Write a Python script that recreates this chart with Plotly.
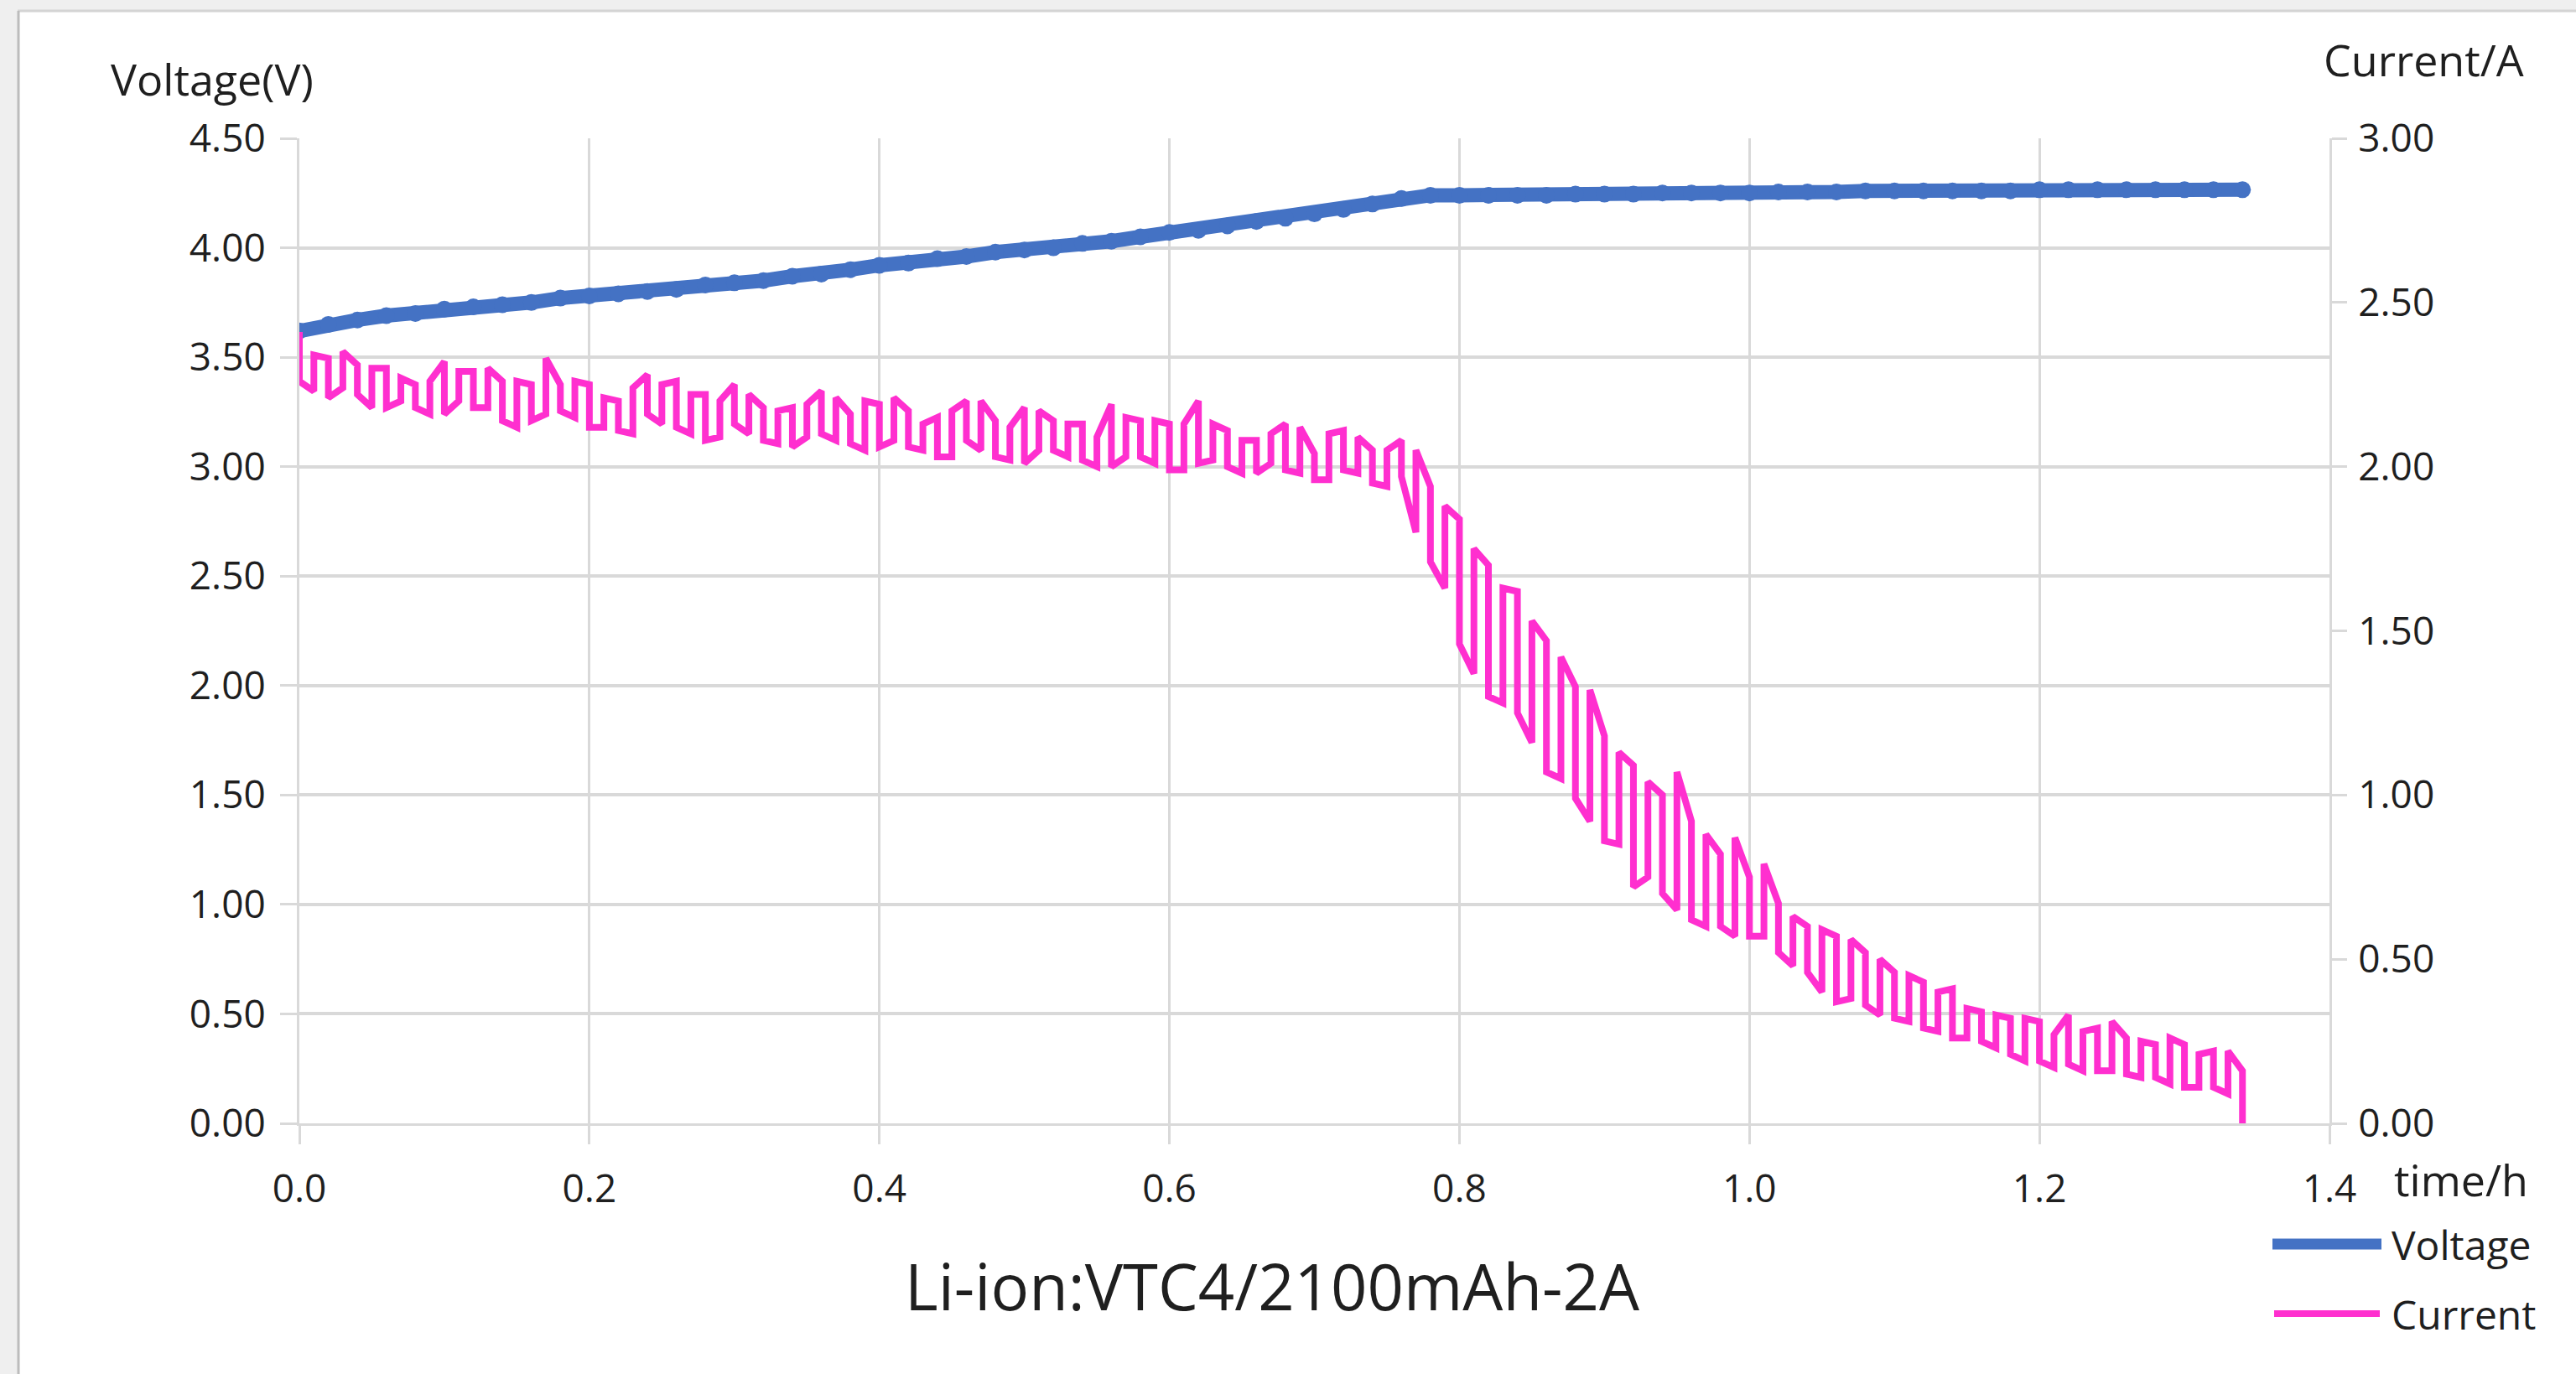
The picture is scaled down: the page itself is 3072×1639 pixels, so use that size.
import plotly.graph_objects as go

# ---------------- data ----------------
cur_t = [0.00, 0.01, 0.02, 0.03, 0.04, 0.05, 0.06, 0.07, 0.08, 0.09,
         0.10, 0.11, 0.12, 0.13, 0.14, 0.15, 0.16, 0.17, 0.18, 0.19,
         0.20, 0.21, 0.22, 0.23, 0.24, 0.25, 0.26, 0.27, 0.28, 0.29,
         0.30, 0.31, 0.32, 0.33, 0.34, 0.35, 0.36, 0.37, 0.38, 0.39,
         0.40, 0.41, 0.42, 0.43, 0.44, 0.45, 0.46, 0.47, 0.48, 0.49,
         0.50, 0.51, 0.52, 0.53, 0.54, 0.55, 0.56, 0.57, 0.58, 0.59,
         0.60, 0.61, 0.62, 0.63, 0.64, 0.65, 0.66, 0.67, 0.68, 0.69,
         0.70, 0.71, 0.72, 0.73, 0.74, 0.75, 0.76, 0.77, 0.78, 0.79,
         0.80, 0.81, 0.82, 0.83, 0.84, 0.85, 0.86, 0.87, 0.88, 0.89,
         0.90, 0.91, 0.92, 0.93, 0.94, 0.95, 0.96, 0.97, 0.98, 0.99,
         1.00, 1.01, 1.02, 1.03, 1.04, 1.05, 1.06, 1.07, 1.08, 1.09,
         1.10, 1.11, 1.12, 1.13, 1.14, 1.15, 1.16, 1.17, 1.18, 1.19,
         1.20, 1.21, 1.22, 1.23, 1.24, 1.25, 1.26, 1.27, 1.28, 1.29,
         1.30, 1.31, 1.32, 1.33, 1.34]

cur_hi = [2.41, 2.34, 2.33, 2.35, 2.31, 2.30, 2.30, 2.27, 2.25, 2.26,
          2.32, 2.29, 2.29, 2.30, 2.26, 2.26, 2.25, 2.33, 2.25, 2.26,
          2.25, 2.21, 2.20, 2.24, 2.28, 2.25, 2.26, 2.22, 2.22, 2.20,
          2.25, 2.22, 2.18, 2.17, 2.18, 2.19, 2.23, 2.21, 2.16, 2.20,
          2.19, 2.21, 2.17, 2.13, 2.15, 2.17, 2.20, 2.20, 2.14, 2.12,
          2.18, 2.17, 2.14, 2.13, 2.13, 2.09, 2.19, 2.15, 2.14, 2.14,
          2.13, 2.13, 2.20, 2.13, 2.11, 2.08, 2.08, 2.10, 2.13, 2.12,
          2.04, 2.10, 2.11, 2.09, 2.05, 2.05, 2.08, 2.05, 1.94, 1.88,
          1.84, 1.75, 1.70, 1.63, 1.62, 1.53, 1.47, 1.42, 1.33, 1.32,
          1.18, 1.13, 1.09, 1.04, 1.00, 1.07, 0.92, 0.88, 0.82, 0.87,
          0.75, 0.79, 0.67, 0.63, 0.60, 0.59, 0.57, 0.56, 0.52, 0.50,
          0.46, 0.45, 0.43, 0.40, 0.41, 0.35, 0.34, 0.33, 0.32, 0.32,
          0.31, 0.27, 0.33, 0.28, 0.29, 0.31, 0.26, 0.25, 0.24, 0.26,
          0.24, 0.21, 0.22, 0.22, 0.16]

cur_lo = [2.26, 2.23, 2.21, 2.24, 2.22, 2.18, 2.18, 2.20, 2.18, 2.16,
          2.16, 2.20, 2.18, 2.18, 2.14, 2.12, 2.14, 2.16, 2.17, 2.15,
          2.12, 2.12, 2.11, 2.10, 2.16, 2.13, 2.12, 2.10, 2.08, 2.09,
          2.13, 2.10, 2.08, 2.07, 2.06, 2.09, 2.10, 2.08, 2.07, 2.05,
          2.06, 2.08, 2.06, 2.05, 2.03, 2.03, 2.08, 2.05, 2.03, 2.02,
          2.01, 2.05, 2.05, 2.03, 2.02, 2.00, 2.00, 2.03, 2.03, 2.01,
          1.99, 1.99, 2.01, 2.02, 2.00, 1.98, 1.98, 2.01, 1.99, 1.98,
          1.96, 1.96, 1.99, 1.98, 1.95, 1.94, 1.97, 1.80, 1.71, 1.63,
          1.46, 1.37, 1.30, 1.28, 1.25, 1.16, 1.07, 1.05, 0.99, 0.92,
          0.86, 0.85, 0.72, 0.75, 0.70, 0.65, 0.62, 0.60, 0.60, 0.57,
          0.57, 0.57, 0.52, 0.48, 0.46, 0.40, 0.37, 0.38, 0.36, 0.33,
          0.32, 0.31, 0.29, 0.28, 0.26, 0.26, 0.25, 0.23, 0.21, 0.19,
          0.19, 0.17, 0.18, 0.16, 0.16, 0.16, 0.15, 0.14, 0.14, 0.12,
          0.11, 0.11, 0.11, 0.09, 0.00]

volt_t = [0.00, 0.02, 0.04, 0.06, 0.08, 0.10, 0.12, 0.14, 0.16, 0.18,
          0.20, 0.22, 0.24, 0.26, 0.28, 0.30, 0.32, 0.34, 0.36, 0.38,
          0.40, 0.42, 0.44, 0.46, 0.48, 0.50, 0.52, 0.54, 0.56, 0.58,
          0.60, 0.62, 0.64, 0.66, 0.68, 0.70, 0.72, 0.74, 0.76, 0.78,
          0.80, 0.82, 0.84, 0.86, 0.88, 0.90, 0.92, 0.94, 0.96, 0.98,
          1.00, 1.02, 1.04, 1.06, 1.08, 1.10, 1.12, 1.14, 1.16, 1.18,
          1.20, 1.22, 1.24, 1.26, 1.28, 1.30, 1.32, 1.34]

volt_v = [3.62, 3.65, 3.67, 3.69, 3.70, 3.72, 3.73, 3.74, 3.75, 3.77,
          3.78, 3.79, 3.80, 3.81, 3.83, 3.84, 3.85, 3.87, 3.88, 3.90,
          3.92, 3.93, 3.95, 3.96, 3.98, 3.99, 4.00, 4.02, 4.03, 4.05,
          4.07, 4.08, 4.10, 4.12, 4.135, 4.155, 4.175, 4.20, 4.225, 4.24,
          4.24, 4.24, 4.24, 4.24, 4.245, 4.245, 4.245, 4.25, 4.25, 4.25,
          4.25, 4.255, 4.255, 4.255, 4.26, 4.26, 4.26, 4.26, 4.26, 4.26,
          4.265, 4.265, 4.265, 4.265, 4.265, 4.265, 4.265, 4.265]

volt_ticks = [0.0, 0.5, 1.0, 1.5, 2.0, 2.5, 3.0, 3.5, 4.0, 4.5]
cur_ticks = [0.0, 0.5, 1.0, 1.5, 2.0, 2.5, 3.0]
time_ticks = [0.0, 0.2, 0.4, 0.6, 0.8, 1.0, 1.2, 1.4]

title_text = "Li-ion:VTC4/2100mAh-2A"
series_names = ["Voltage", "Current"]

# ---------------- styling ----------------
W, H = 3072, 1639
ML, MR, MT, MB = 357, 294, 165, 299
PW, PH = W - ML - MR, H - MT - MB
BLUE = "#4472C4"
PINK = "#FF2FCF"
GRID = "#d9d9d9"
TXT = "#1f1f1f"
FONT = "Open Sans"


def px(xp):
    return (xp - ML) / PW


def py(yp):
    return (MT + PH - yp) / PH


# current path: each sample drawn as a vertical stroke between its low and high
cx, cy = [], []
for i, (t, hi, lo) in enumerate(zip(cur_t, cur_hi, cur_lo)):
    cx += [t, t]
    cy += [hi, lo] if i % 2 == 0 else [lo, hi]

fig = go.Figure()
fig.add_trace(go.Scatter(
    x=volt_t, y=volt_v, name=series_names[0], mode="lines+markers",
    line=dict(color=BLUE, width=17),
    marker=dict(color=BLUE, size=20, symbol="circle"),
    yaxis="y", showlegend=False, hoverinfo="skip"))
fig.add_trace(go.Scatter(
    x=cx, y=cy, name=series_names[1], mode="lines",
    line=dict(color=PINK, width=8),
    yaxis="y2", showlegend=False, hoverinfo="skip"))

tickfont = dict(family=FONT, size=46, color=TXT)

fig.update_layout(
    width=W, height=H,
    margin=dict(l=ML, r=MR, t=MT, b=MB, pad=0),
    paper_bgcolor="white", plot_bgcolor="white",
    font=dict(family=FONT, color=TXT),
    xaxis=dict(
        range=[0, 1.4], tickvals=time_ticks, tickformat=".1f",
        showgrid=True, gridcolor=GRID, gridwidth=3,
        showline=True, linecolor=GRID, linewidth=3,
        ticks="outside", ticklen=22, tickwidth=3, tickcolor=GRID,
        zeroline=False, tickfont=tickfont, ticklabelstandoff=14,
    ),
    yaxis=dict(
        range=[0, 4.5], tickvals=volt_ticks, tickformat=".2f",
        showgrid=True, gridcolor=GRID, gridwidth=4,
        showline=True, linecolor=GRID, linewidth=3,
        ticks="outside", ticklen=20, tickwidth=3, tickcolor=GRID,
        zeroline=False, tickfont=tickfont, ticklabelstandoff=8,
    ),
    yaxis2=dict(
        range=[0, 3], tickvals=cur_ticks, tickformat=".2f",
        overlaying="y", side="right", showgrid=False,
        showline=True, linecolor=GRID, linewidth=3,
        ticks="outside", ticklen=18, tickwidth=3, tickcolor=GRID,
        zeroline=False, tickfont=tickfont, ticklabelstandoff=4,
    ),
    showlegend=False,
)

# window frame (light grey strips at top and left)
shapes = [
    dict(type="rect", xref="paper", yref="paper", x0=px(0), x1=px(W), y0=py(0), y1=py(12),
         fillcolor="#efefef", line=dict(width=0), layer="below"),
    dict(type="line", xref="paper", yref="paper", x0=px(21), x1=px(W), y0=py(13), y1=py(13),
         line=dict(color="#d4d4d4", width=3)),
    dict(type="rect", xref="paper", yref="paper", x0=px(0), x1=px(21), y0=py(0), y1=py(H),
         fillcolor="#efefef", line=dict(width=0), layer="below"),
    dict(type="line", xref="paper", yref="paper", x0=px(22), x1=px(22), y0=py(13), y1=py(H),
         line=dict(color="#bcbcbc", width=3)),
    # legend swatches
    dict(type="line", xref="paper", yref="paper", x0=px(2710), x1=px(2840), y0=py(1484), y1=py(1484),
         line=dict(color=BLUE, width=13)),
    dict(type="line", xref="paper", yref="paper", x0=px(2712), x1=px(2838), y0=py(1567), y1=py(1567),
         line=dict(color=PINK, width=8)),
]

annotations = [
    dict(text="Voltage(V)", xref="paper", yref="paper", x=px(253), y=py(93),
         xanchor="center", yanchor="middle", showarrow=False,
         font=dict(family=FONT, size=52, color=TXT)),
    dict(text="Current/A", xref="paper", yref="paper", x=px(2890), y=py(71),
         xanchor="center", yanchor="middle", showarrow=False,
         font=dict(family=FONT, size=52, color=TXT)),
    dict(text="time/h", xref="paper", yref="paper", x=px(2935), y=py(1406),
         xanchor="center", yanchor="middle", showarrow=False,
         font=dict(family=FONT, size=52, color=TXT)),
    dict(text=title_text, xref="paper", yref="paper", x=px(1517), y=py(1533),
         xanchor="center", yanchor="middle", showarrow=False,
         font=dict(family=FONT, size=76, color=TXT)),
    dict(text=series_names[0], xref="paper", yref="paper", x=px(2850), y=py(1484),
         xanchor="left", yanchor="middle", showarrow=False,
         font=dict(family=FONT, size=48, color=TXT)),
    dict(text=series_names[1], xref="paper", yref="paper", x=px(2850), y=py(1567),
         xanchor="left", yanchor="middle", showarrow=False,
         font=dict(family=FONT, size=48, color=TXT)),
]

fig.update_layout(shapes=shapes, annotations=annotations)

fig.write_html("out.html",
               config={"displayModeBar": False},
               post_script="document.body.style.margin='0';document.body.style.overflow='hidden';")
